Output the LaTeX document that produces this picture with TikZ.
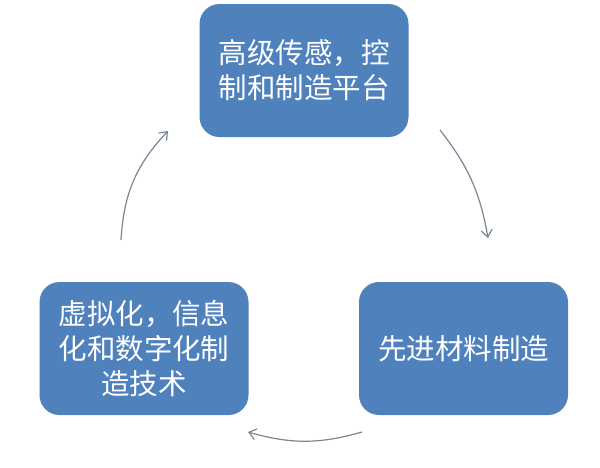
\documentclass[tikz,border=0pt]{standalone}
\usepackage{fontspec}
\newfontfamily\cjk{Noto Sans CJK SC}
\usetikzlibrary{arrows.meta}
\definecolor{boxblue}{HTML}{4F81BD}
\definecolor{arrowgray}{HTML}{7A8698}
\begin{document}
\begin{tikzpicture}[x=1pt,y=-1pt,
  box/.style={fill=boxblue, rounded corners=20pt, minimum width=209pt, minimum height=133pt,
    inner sep=0pt, text=white, font=\cjk\fontsize{28.5}{35}\selectfont, align=center},
  cyc/.style={draw=arrowgray, line width=1.2pt, -{Straight Barb[length=7pt,width=11pt]}}]
  \fill[white] (0,0) rectangle (600,467);
  \useasboundingbox (0,0) rectangle (600,467);
  \node[box] (top) at (304,70.5) {高级传感，控\\制和制造平台};
  \node[box] (left) at (144,348.5) {虚拟化，信息\\化和数字化制\\造技术};
  \node[box] (right) at (463.5,348.5) {先进材料制造};
  \coordinate (a1) at (440,130);
  \coordinate (a2) at (488,238);
  \coordinate (b1) at (362,432);
  \coordinate (b2) at (248,432);
  \coordinate (c1) at (121,240);
  \coordinate (c2) at (168,131);
  \draw[cyc] (a1) to[bend left=14] (a2);
  \draw[cyc] (b1) to[bend left=16] (b2);
  \draw[cyc] (c1) to[bend left=20] (c2);
\end{tikzpicture}
\end{document}
